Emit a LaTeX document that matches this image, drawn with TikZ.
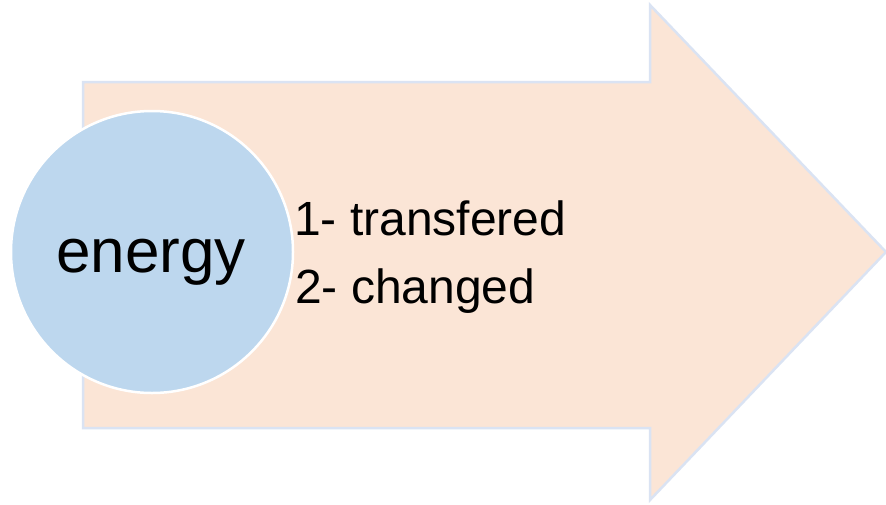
\documentclass[tikz,border=0pt]{standalone}
\usepackage{fontspec}
\setmainfont{Liberation Sans}
\definecolor{arrowfill}{HTML}{FBE5D6}
\definecolor{arrowline}{HTML}{DAE3F3}
\definecolor{circfill}{HTML}{BDD7EE}
\tikzset{
  bigarrow/.style={fill=arrowfill, draw=arrowline, line width=2.5pt, line join=miter},
  bubble/.style={circle, fill=circfill, draw=white, line width=2.5pt, minimum size=282pt, inner sep=0pt},
  itemtext/.style={anchor=base west, inner sep=0pt, font=\fontsize{48}{52}\selectfont},
}
\begin{document}
\begin{tikzpicture}[x=1pt,y=-1pt]
\useasboundingbox (0,0) rectangle (886,504);
\fill[white] (0,0) rectangle (886,504);
\draw[bigarrow] (83,82) -- (650,82) -- (650,5) -- (886,252) -- (650,500) -- (650,428) -- (83,428) -- cycle;
\node[bubble] (energy) at (152,252) {};
\node[anchor=base, inner sep=0pt, font=\fontsize{62}{66}\selectfont] (lbl) at (151,272) {energy};
\node[itemtext] (t1) at (294,235) {1- transfered};
\node[itemtext] (t2) at (295,303) {2- changed};
\end{tikzpicture}
\end{document}
